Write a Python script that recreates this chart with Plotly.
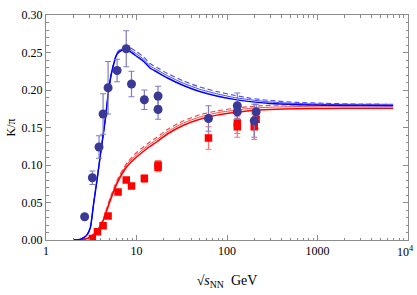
import plotly.graph_objects as go

# ---- data points ----
kp_e   = [2.67, 3.25, 3.85, 4.27, 4.85, 6.1, 7.7, 8.8, 12.2, 17.3, 17.3, 62.4, 130, 130, 200, 210]
kp_y   = [0.031, 0.083, 0.124, 0.168, 0.203, 0.226, 0.255, 0.208, 0.187, 0.192, 0.174, 0.162, 0.179, 0.171, 0.159, 0.171]
kp_err = [0.0, 0.009, 0.015, 0.027, 0.035, 0.015, 0.024, 0.017, 0.013, 0.013, 0.013, 0.017, 0.017, 0.010, 0.022, 0.010]

km_e   = [3.25, 3.7, 4.27, 4.85, 6.25, 7.7, 8.8, 12.2, 17.3, 17.3, 62.4, 130, 130, 200, 210]
km_y   = [0.002, 0.011, 0.019, 0.032, 0.064, 0.080, 0.072, 0.082, 0.097, 0.100, 0.136, 0.151, 0.156, 0.151, 0.161]
km_err = [0.0, 0.0, 0.0, 0.0, 0.0, 0.0, 0.0, 0.005, 0.006, 0.006, 0.015, 0.014, 0.014, 0.017, 0.012]

# ---- model curves ----
c_e = [2.0, 2.4, 2.8, 3.08, 3.36, 3.66, 3.98, 4.3, 4.53, 4.92, 5.37, 6.1, 6.9, 7.6, 8.55,
       10, 12, 14.2, 16.8, 22, 33, 50, 77, 120, 180, 300, 600, 1200, 3000, 6855]
blue_solid  = [0.0, 0.001, 0.006, 0.016, 0.049, 0.080, 0.113, 0.142, 0.162, 0.200, 0.226, 0.248, 0.253, 0.2535, 0.251,
               0.245, 0.238, 0.229, 0.224, 0.216, 0.206, 0.198, 0.192, 0.1875, 0.1845, 0.182, 0.1805, 0.1797, 0.1792, 0.179]
blue_solid2 = [0.0, 0.001, 0.006, 0.016, 0.049, 0.080, 0.113, 0.142, 0.162, 0.200, 0.226, 0.249, 0.2545, 0.2555, 0.2535,
               0.248, 0.241, 0.232, 0.227, 0.219, 0.209, 0.201, 0.195, 0.190, 0.187, 0.184, 0.182, 0.181, 0.1802, 0.180]
blue_dash   = [0.0, 0.001, 0.006, 0.016, 0.049, 0.080, 0.113, 0.142, 0.162, 0.200, 0.227, 0.250, 0.2555, 0.257, 0.256,
               0.251, 0.244, 0.235, 0.230, 0.222, 0.212, 0.204, 0.198, 0.193, 0.189, 0.186, 0.1835, 0.1822, 0.1813, 0.181]

r_e = [2.0, 2.5, 3.0, 3.5, 4.0, 4.33, 5.14, 6.1, 7.85, 10.1, 13.1, 16.8, 21.7, 33, 50, 77, 120, 180, 300, 600, 1200, 3000, 6855]
red_solid  = [0.0, 0.0005, 0.003, 0.009, 0.019, 0.027, 0.053, 0.0756, 0.098, 0.111, 0.122, 0.131, 0.141, 0.153, 0.161,
              0.1665, 0.170, 0.1725, 0.174, 0.175, 0.1754, 0.1756, 0.1756]
red_solid2 = [0.0, 0.0005, 0.003, 0.010, 0.020, 0.029, 0.055, 0.078, 0.101, 0.114, 0.125, 0.134, 0.144, 0.156, 0.164,
              0.1695, 0.173, 0.1755, 0.177, 0.178, 0.1785, 0.1788, 0.179]
red_dash   = [0.0, 0.0005, 0.003, 0.011, 0.021, 0.030, 0.057, 0.080, 0.103, 0.117, 0.128, 0.137, 0.147, 0.159, 0.167,
              0.172, 0.1755, 0.178, 0.1795, 0.1803, 0.1807, 0.181, 0.181]

x_ticks = [1, 10, 100, 1000, 10000]
x_labels = ["1", "10", "100", "1000", "10<sup>4</sup>"]
x_minor = [m * d for d in (1, 10, 100, 1000) for m in range(2, 10)]
y_ticks = [0.0, 0.05, 0.10, 0.15, 0.20, 0.25, 0.30]
y_labels = ["0.00", "0.05", "0.10", "0.15", "0.20", "0.25", "0.30"]

BLUE_PT = "rgb(58,58,150)"
BLUE_ERR = "rgb(125,125,190)"
RED_PT = "rgb(255,0,0)"
RED_ERR = "rgb(255,110,110)"
FONT = "Liberation Serif"
AX = "rgb(140,140,140)"

fig = go.Figure()

def curve(x, y, color, dash="solid", width=1.4):
    fig.add_trace(go.Scatter(x=x, y=y, mode="lines", line=dict(color=color, width=width, dash=dash, shape="spline", smoothing=0.6),
                             showlegend=False, hoverinfo="skip"))

curve(r_e, red_dash, "rgb(255,60,60)", dash="5px,3px", width=1.1)
curve(r_e, red_solid2, "rgb(255,70,70)", width=1.0)
curve(r_e, red_solid, "rgb(255,0,0)", width=1.5)
curve(c_e, blue_dash, "rgb(70,70,255)", dash="5px,3px", width=1.1)
curve(c_e, blue_solid2, "rgb(70,70,255)", width=1.0)
curve(c_e, blue_solid, "rgb(0,0,255)", width=1.5)

fig.add_trace(go.Scatter(x=km_e, y=km_y, mode="markers",
                         marker=dict(symbol="square", size=7.5, color=RED_PT),
                         error_y=dict(type="data", array=km_err, color=RED_ERR, thickness=1.2, width=3),
                         showlegend=False))
fig.add_trace(go.Scatter(x=kp_e, y=kp_y, mode="markers",
                         marker=dict(symbol="circle", size=9, color=BLUE_PT),
                         error_y=dict(type="data", array=kp_err, color=BLUE_ERR, thickness=1.2, width=3),
                         showlegend=False))

axis_common = dict(showline=True, linecolor=AX, linewidth=1, mirror="ticks",
                   ticks="inside", ticklen=5, tickcolor=AX, showgrid=False, zeroline=False,
                   ticklabeloverflow="allow",
                   tickfont=dict(family=FONT, size=12, color="black"))

# last x tick label is drawn as an annotation so it is not dropped at the page edge
fig.update_xaxes(type="log", range=[-0.0005, 4.0005], tickvals=x_ticks,
                 ticktext=x_labels[:-1] + [""],
                 minor=dict(ticks="inside", ticklen=2.5, tickcolor=AX, showgrid=False, tickvals=x_minor),
                 title=dict(text="√<i>s</i><sub>NN</sub>  GeV", font=dict(family=FONT, size=14, color="black"), standoff=17),
                 **axis_common)
fig.update_yaxes(range=[0, 0.30], tickvals=y_ticks, ticktext=y_labels,
                 minor=dict(ticks="inside", ticklen=2.5, tickcolor=AX, dtick=0.01, showgrid=False),
                 title=dict(text="K/π", font=dict(family=FONT, size=12, color="black"), standoff=3),
                 **axis_common)

fig.add_annotation(x=1, xref="paper", y=0, yref="paper", yanchor="top", xanchor="right", yshift=-2, xshift=8,
                   text=x_labels[-1], showarrow=False, font=dict(family=FONT, size=12, color="black"))

fig.update_layout(width=417, height=295, margin=dict(l=46, r=9, t=15, b=55),
                  paper_bgcolor="white", plot_bgcolor="white")

fig.write_html("out.html", config={"displayModeBar": False},
               post_script="document.body.style.margin='0';document.body.style.overflow='hidden';")
